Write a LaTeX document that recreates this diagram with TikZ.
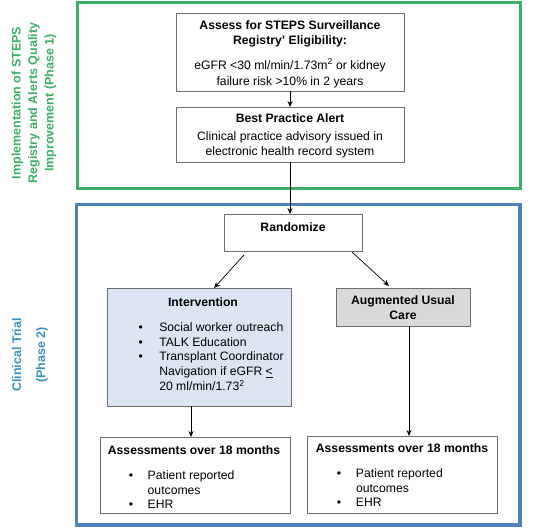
\documentclass[tikz,border=0pt]{standalone}
\usepackage{fontspec}
\setmainfont{Liberation Sans}
\usetikzlibrary{arrows.meta,calc}
\definecolor{phgreen}{RGB}{60,176,104}
\definecolor{phblue}{RGB}{79,129,189}
\definecolor{txtblue}{RGB}{56,146,196}
\definecolor{intfill}{RGB}{220,230,242}
\definecolor{augfill}{RGB}{217,217,217}
\definecolor{boxline}{RGB}{110,110,110}
\newcommand{\bx}[4]{\parbox[c][#2][t]{#1}{\vspace*{#3}#4}}
\newcommand{\bl}[2]{\hspace*{#1}\makebox[#2][l]{\textbullet}}
\begin{document}
\begin{tikzpicture}[x=1pt,y=-1pt,
  box/.style={draw=boxline, line width=0.8pt, inner sep=0pt, outer sep=0pt,
    font=\fontsize{12.2}{14.8}\selectfont},
  arr/.style={-{Stealth[length=6pt,width=5pt]}, line width=0.7pt, black},
  framegreen/.style={draw=phgreen, line width=3pt},
  frameblue/.style={draw=phblue, line width=3.5pt},
  sidelabel/.style={rotate=90, align=center, inner sep=0pt}]
\useasboundingbox (0,0) rectangle (535,527);
% frames
\draw[framegreen] (77,3) rectangle (520.5,188);
\draw[frameblue] (76.5,204.5) rectangle (520,525);
% side labels
\node[sidelabel, text=phgreen, font=\bfseries\fontsize{12.5}{16.5}\selectfont] (lab1) at (34,103)
  {Implementation of STEPS\\Registry and Alerts Quality\\Improvement (Phase 1)};
\node[sidelabel, text=txtblue, font=\bfseries\fontsize{12.5}{16.5}\selectfont] (lab2) at (30,355)
  {Clinical Trial\\[7.5pt](Phase 2)};
% boxes
\node[box, fill=white] (elig) at (290,52) {\bx{228pt}{78pt}{8pt}{\centering
  \textbf{Assess for STEPS Surveillance}\\
  \textbf{Registry’ Eligibility:}\\[9.7pt]
  eGFR <30 ml/min/1.73m\textsuperscript{2} or kidney\\[1.2pt]
  failure risk >10\% in 2 years}};
\node[box, fill=white] (alert) at (290,134.5) {\bx{228pt}{55pt}{7pt}{\centering
  \textbf{Best Practice Alert}\\[2.7pt]
  Clinical practice advisory issued in\\
  electronic health record system}};
\node[box, fill=white] (rand) at (293,232.5) {\bx{138pt}{37pt}{8.4pt}{\centering
  \textbf{Randomize}}};
\node[box, fill=intfill] (interv) at (199,347) {\bx{184pt}{118pt}{9.4pt}{\raggedright
  \makebox[184pt]{\hspace{8pt}\textbf{Intervention}}\\[10.2pt]
  \bl{31.6pt}{20.7pt}Social worker outreach\\
  \bl{31.6pt}{20.7pt}TALK Education\\
  \bl{31.6pt}{20.7pt}Transplant Coordinator\\
  \hspace*{52.3pt}Navigation if eGFR \underline{<}\\
  \hspace*{52.3pt}20 ml/min/1.73\textsuperscript{2}}};
\node[box, fill=augfill] (aug) at (403,307) {\bx{134pt}{38pt}{8pt}{\centering
  \textbf{Augmented Usual}\\[0.2pt]
  \textbf{Care}}};
\node[box, fill=white] (assL) at (195,475) {\bx{190pt}{76pt}{8.4pt}{\raggedright
  \makebox[190pt]{\hspace{-2pt}\textbf{Assessments over 18 months}}\\[10.2pt]
  \bl{28.9pt}{18.8pt}Patient reported\\
  \hspace*{47.7pt}outcomes\\
  \bl{28.9pt}{18.8pt}EHR}};
\node[box, fill=white] (assR) at (402,474.5) {\bx{190pt}{77pt}{7.4pt}{\raggedright
  \makebox[190pt]{\textbf{Assessments over 18 months}}\\[10.2pt]
  \bl{29.9pt}{19.1pt}Patient reported\\
  \hspace*{49pt}outcomes\\
  \bl{29.9pt}{19.1pt}EHR}};
% connectors
\draw[arr] (elig) -- (alert);
\draw[arr] (alert.south) -- (alert.south |- rand.north);
\draw[arr] ([shift={(20pt,-4pt)}]rand.south west) -- ([xshift=15pt]interv.north);
\draw[arr] ([shift={(-10pt,-1pt)}]rand.south east) -- ([shift={(-14pt,2pt)}]aug.north);
\draw[arr] ([xshift=-8pt]interv.south) -- ([xshift=-8pt]interv.south |- assL.north);
\draw[arr] ([xshift=6pt]aug.south) -- ([xshift=6pt]aug.south |- assR.north);
\end{tikzpicture}
\end{document}
